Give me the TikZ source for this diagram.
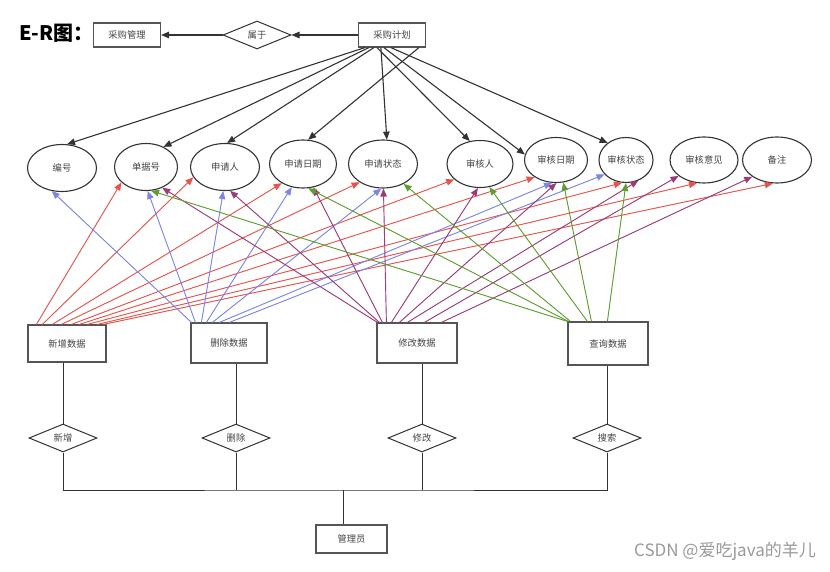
\documentclass[tikz,border=0pt]{standalone}
\usepackage{fontspec}
\setmainfont{Noto Sans CJK SC}
\usetikzlibrary{arrows.meta,shapes.geometric,calc}
\definecolor{cred}{HTML}{E8534B}
\definecolor{cblue}{HTML}{7C85E8}
\definecolor{cpurple}{HTML}{9B3C78}
\definecolor{cgreen}{HTML}{5E9E30}
\definecolor{cline}{HTML}{333333}
\definecolor{cbox}{HTML}{555555}
\definecolor{ctext}{HTML}{444444}
\definecolor{cwm}{HTML}{9A9A9A}
\begin{document}
\begin{tikzpicture}[x=1pt,y=-1pt,
  font=\fontsize{9.3}{11}\selectfont,
  ent/.style={draw=cbox, line width=1.2pt, rectangle, inner sep=0pt, text=ctext},
  attr/.style={draw=cline, line width=1.1pt, ellipse, inner sep=0pt, minimum width=68pt, minimum height=47pt, text=ctext},
  rel/.style={draw=cline, line width=1pt, diamond, inner sep=0pt, minimum width=68pt, minimum height=28pt, shape aspect=2.4, text=ctext},
  tip/.style={-{Triangle[length=8pt,width=6.5pt]}},
  bk/.style={tip, draw=cline, line width=1.1pt},
  rl/.style={tip, draw=cred, fill=cred, line width=0.9pt},
  bl/.style={tip, draw=cblue, fill=cblue, line width=0.9pt},
  pl/.style={tip, draw=cpurple, fill=cpurple, line width=0.9pt},
  gl/.style={tip, draw=cgreen, fill=cgreen, line width=0.9pt},
  ln/.style={draw=cline, line width=1pt}
]
\fill[white] (0,0) rectangle (830,572);
\useasboundingbox (0,0) rectangle (830,572);

% title and top row
\node[font=\fontsize{20}{24}\selectfont\bfseries, text=black, anchor=west, inner sep=0pt] (title) at (19,33) {E-R图：};
\node[ent, minimum width=67pt, minimum height=24pt] (mgmt) at (127,35) {采购管理};
\node[rel] (belong) at (257,35) {属于};
\node[ent, minimum width=67pt, minimum height=24pt] (plan) at (392,35) {采购计划};
\draw[bk] (plan.west) -- (belong.east);
\draw[bk] (belong.west) -- (mgmt.east);

% attributes
\node[attr, minimum width=69pt] (e1) at (62,168) {编号};
\node[attr, minimum width=63pt] (e2) at (146,167) {单据号};
\node[attr, minimum width=69pt] (e3) at (225,167) {申请人};
\node[attr, minimum width=67pt, minimum height=48pt] (e4) at (303,164) {申请日期};
\node[attr, minimum width=69pt, minimum height=48pt] (e5) at (383,164) {申请状态};
\node[attr, minimum width=66pt] (e6) at (480,164) {审核人};
\node[attr, minimum width=63pt, minimum height=45pt] (e7) at (556,160) {审核日期};
\node[attr, minimum width=54pt, minimum height=45pt] (e8) at (626,160) {审核状态};
\node[attr, minimum width=68pt, minimum height=46pt] (e9) at (704,160) {审核意见};
\node[attr, minimum width=69pt, minimum height=46pt] (e10) at (777,160) {备注};

% black arrows from plan
\draw[bk] ([xshift=7pt]plan.south west) -- (e1.78);
\draw[bk] ([xshift=11pt]plan.south west) -- (e2.49);
\draw[bk] ([xshift=16pt]plan.south west) -- (e3.85);
\draw[bk] ([xshift=61pt]plan.south west) -- (e4.78);
\draw[bk] ([xshift=23pt]plan.south west) -- (e5.81);
\draw[bk] ([xshift=19pt]plan.south west) -- (e6.114);
\draw[bk] ([xshift=26pt]plan.south west) -- (e7.170);
\draw[bk] ([xshift=33pt]plan.south west) -- (e8.137);

% operation boxes
\node[ent, minimum width=78pt, minimum height=37pt] (add) at (67,343.5) {新增数据};
\node[ent, minimum width=76pt, minimum height=40pt] (del) at (229,343) {删除数据};
\node[ent, minimum width=80pt, minimum height=40pt] (mod) at (417,343) {修改数据};
\node[ent, minimum width=80pt, minimum height=43pt] (qry) at (608,343.5) {查询数据};

% red: add
\draw[rl] ([xshift=9pt]add.north west) -- (e2.212);
\draw[rl] ([xshift=15pt]add.north west) -- (e3.198);
\draw[rl] ([xshift=25pt]add.north west) -- (e4.222);
\draw[rl] ([xshift=34pt]add.north west) -- (e5.218);
\draw[rl] ([xshift=44pt]add.north west) -- (e6.211);
\draw[rl] ([xshift=52pt]add.north west) -- (e7.219);
\draw[rl] ([xshift=60pt]add.north west) -- (e8.260);
\draw[rl] ([xshift=70pt]add.north west) -- (e9.253);
\draw[rl] ([xshift=76pt]add.north west) -- (e10.260);

% blue: del
\draw[bl] ([xshift=1pt]del.north west) -- (e1.246);
\draw[bl] ([xshift=5pt]del.north west) -- (e2.274);
\draw[bl] ([xshift=11pt]del.north west) -- (e3.266);
\draw[bl] ([xshift=16pt]del.north west) -- (e4.244);
\draw[bl] ([xshift=22pt]del.north west) -- (e5.266);
\draw[bl] ([xshift=29pt]del.north west) -- (e7.260);
\draw[bl] ([xshift=39pt]del.north west) -- (e8.214);

% purple: mod
\draw[pl] ([xshift=1pt]mod.north west) -- (e2.308);
\draw[pl] ([xshift=3pt]mod.north west) -- (e3.282);
\draw[pl] ([xshift=6pt]mod.north west) -- (e4.294);
\draw[pl] ([xshift=10pt]mod.north west) -- (e5.271);
\draw[pl] ([xshift=15pt]mod.north west) -- (e6.265);
\draw[pl] ([xshift=23pt]mod.north west) -- (e7.271);
\draw[pl] ([xshift=31pt]mod.north west) -- (e8.301);
\draw[pl] ([xshift=48pt]mod.north west) -- (e9.212);
\draw[pl] ([xshift=65pt]mod.north west) -- (e10.214);

% green: qry
\draw[gl] ([xshift=0pt]qry.north west) -- (e2.282);
\draw[gl] ([xshift=1pt]qry.north west) -- (e4.282);
\draw[gl] ([xshift=3pt]qry.north west) -- (e5.316);
\draw[gl] ([xshift=20pt]qry.north west) -- (e6.292);
\draw[gl] ([xshift=24pt]qry.north west) -- (e7.288);
\draw[gl] ([xshift=40pt]qry.north west) -- (e8.270);

% relationships to admin
\node[rel] (d1) at (63,438) {新增};
\node[rel] (d2) at (236,438) {删除};
\node[rel] (d3) at (422,438) {修改};
\node[rel] (d4) at (607,438) {搜索};
\node[ent, minimum width=71pt, minimum height=28pt] (admin) at (351.5,539) {管理员};
\coordinate (bus) at (343,490);

\draw[ln] (add.south -| d1.north) -- (d1.north);
\draw[ln] (del.south -| d2.north) -- (d2.north);
\draw[ln] (mod.south -| d3.north) -- (d3.north);
\draw[ln] (qry.south -| d4.north) -- (d4.north);
\draw[ln] (d1.south) |- (bus) -| (d4.south);
\draw[ln] (d2.south) -- (d2.south |- bus);
\draw[ln] (d3.south) -- (d3.south |- bus);
\draw[ln] (bus) -- (bus |- admin.north);

\node[text=cwm, font=\fontsize{17}{20}\selectfont, anchor=east, inner sep=0pt] (wm) at (816,551) {CSDN @爱吃java的羊儿};
\end{tikzpicture}
\end{document}
